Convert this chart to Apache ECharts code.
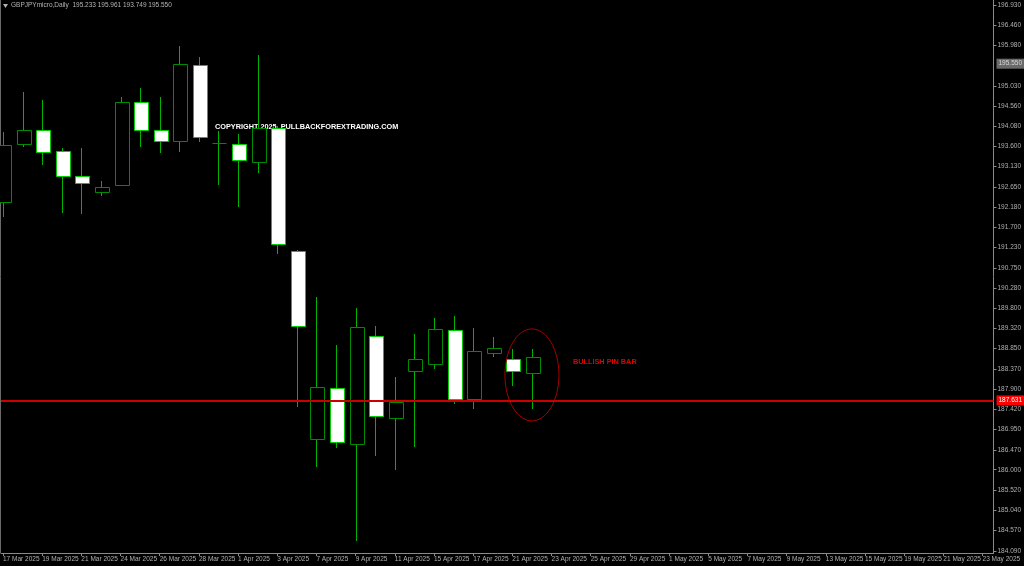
<!DOCTYPE html>
<html>
<head>
<meta charset="utf-8">
<script src="https://cdn.jsdelivr.net/npm/echarts@6/dist/echarts.min.js"></script>
<style>
html,body{margin:0;padding:0;background:#000;}
#chart{width:1024px;height:566px;}
</style>
</head>
<body>
<div id="chart"></div>
<script>
// ---- data ----
const barIndex = [0,1,2,3,4,5,6,7,8,9,10,11,12,13,14,15,16,17,18,19,20,21,22,23,24,25,26,27];
const opens  = [192.30,193.65,193.99,193.50,192.91,192.53,192.69,194.66,193.99,193.73,195.51,193.68,193.65,193.23,194.03,191.14,186.72,187.93,186.60,189.15,187.21,188.32,188.48,189.29,187.66,188.75,188.60,188.27];
const highs  = [193.95,194.89,194.69,193.56,193.57,192.79,194.76,194.98,194.77,195.97,195.70,193.97,193.90,195.75,194.08,191.17,190.06,188.93,189.80,189.39,188.17,189.19,189.57,189.62,189.33,189.13,188.83,188.84];
const lows   = [191.95,193.60,193.17,192.03,192.01,192.45,192.68,193.60,193.44,193.47,193.72,192.70,192.19,192.97,191.07,187.48,186.06,186.52,184.33,186.33,185.99,186.54,188.37,187.54,187.44,188.64,187.97,187.43];
const closes = [193.64,193.99,193.48,192.91,192.75,192.64,194.65,193.99,193.73,195.54,193.83,193.68,193.29,194.03,191.31,189.39,187.94,186.66,189.36,187.26,187.59,188.60,189.30,187.67,188.80,188.87,188.32,188.65];

const dateLabelBars = [0,2,4,6,8,10,12,14,16,18,20,22,24,26,28,30,32,34,36,38,40,42,44,46,48,50];
const dateLabels = ['17 Mar 2025','19 Mar 2025','21 Mar 2025','24 Mar 2025','26 Mar 2025','28 Mar 2025','1 Apr 2025','3 Apr 2025','7 Apr 2025','9 Apr 2025','11 Apr 2025','15 Apr 2025','17 Apr 2025','21 Apr 2025','23 Apr 2025','25 Apr 2025','29 Apr 2025','1 May 2025','5 May 2025','7 May 2025','9 May 2025','13 May 2025','15 May 2025','19 May 2025','21 May 2025','23 May 2025'];

const priceTicks = [196.930,196.460,195.980,195.030,194.560,194.080,193.600,193.130,192.650,192.180,191.700,191.230,190.750,190.280,189.800,189.320,188.850,188.370,187.900,187.420,186.950,186.470,186.000,185.520,185.040,184.570,184.090];

const priceLine = 187.631;      // red horizontal line
const highlightPrice = 195.550; // grey price marker
const pinBar = [27, 188.23];    // ellipse centre (bar, price)
const headerText = 'GBPJPYmicro,Daily  195.233 195.961 193.749 195.550';
const copyrightText = 'COPYRIGHT 2025. PULLBACKFOREXTRADING.COM';
const pinBarText = 'BULLISH PIN BAR';

// ---- build ----
const candleData = barIndex.map((b, i) => [b, opens[i], closes[i], lows[i], highs[i]]);

const FONT = 'Liberation Sans';
const LABEL_COLOR = '#b0b0b0';
const WICK = '#00b400';
const UP_BORDER = '#008c00';
const DOWN_BORDER = '#00d000';

function renderCandle(params, api) {
  const x = api.value(0), o = api.value(1), c = api.value(2), l = api.value(3), h = api.value(4);
  const pO = api.coord([x, o]), pC = api.coord([x, c]), pL = api.coord([x, l]), pH = api.coord([x, h]);
  const w = Math.round(api.size([1, 0])[0] * 0.74);
  const cx = Math.round(pO[0]) + 0.5;
  const up = c >= o;
  const top = Math.round(Math.min(pO[1], pC[1])) + 0.5;
  const bot = Math.round(Math.max(pO[1], pC[1])) + 0.5;
  const left = Math.round(cx - w / 2) + 0.5;
  const children = [{
    type: 'line',
    shape: { x1: cx, y1: Math.round(pH[1]), x2: cx, y2: Math.round(pL[1]) },
    style: { stroke: WICK, lineWidth: 1 }
  }];
  if (bot - top < 1) {
    children.push({
      type: 'line',
      shape: { x1: left, y1: top, x2: left + w, y2: top },
      style: { stroke: UP_BORDER, lineWidth: 1 }
    });
  } else {
    children.push({
      type: 'rect',
      shape: { x: left, y: top, width: w, height: bot - top },
      style: { fill: up ? '#000000' : '#ffffff', stroke: up ? UP_BORDER : DOWN_BORDER, lineWidth: 1 }
    });
  }
  return { type: 'group', children: children };
}

function renderEllipse(params, api) {
  const p = api.coord([api.value(0), api.value(1)]);
  return {
    type: 'ellipse',
    shape: { cx: p[0], cy: p[1], rx: 27, ry: 46 },
    style: { fill: null, stroke: '#a80000', lineWidth: 1 }
  };
}

const chart = echarts.init(document.getElementById('chart'), null, { renderer: 'canvas' });

const option = {
  backgroundColor: '#000000',
  animation: false,
  grid: { left: 0, right: 28, top: 0, bottom: 13, containLabel: false },
  xAxis: {
    type: 'value',
    min: -0.102,
    max: 50.56,
    splitLine: { show: false },
    axisLine: { show: true, onZero: false, lineStyle: { color: '#8a8a8a', width: 1 } },
    axisTick: { show: true, length: 3, customValues: dateLabelBars, lineStyle: { color: '#8a8a8a' } },
    axisLabel: {
      show: true,
      customValues: dateLabelBars,
      color: LABEL_COLOR,
      fontFamily: FONT,
      fontSize: 6.5,
      align: 'left',
      margin: 3,
      formatter: function (v) {
        const k = dateLabelBars.indexOf(Math.round(v));
        return k >= 0 ? dateLabels[k] : '';
      }
    }
  },
  yAxis: {
    type: 'value',
    position: 'right',
    min: 184.042,
    max: 197.048,
    splitLine: { show: false },
    axisLine: { show: true, onZero: false, lineStyle: { color: '#8a8a8a', width: 1 } },
    axisTick: { show: true, inside: false, length: 3, customValues: priceTicks, lineStyle: { color: '#8a8a8a' } },
    axisLabel: {
      show: true,
      customValues: priceTicks,
      color: LABEL_COLOR,
      fontFamily: FONT,
      fontSize: 6.5,
      margin: 4,
      formatter: function (v) { return v.toFixed(3); }
    }
  },
  series: [
    {
      type: 'custom',
      name: 'candles',
      renderItem: renderCandle,
      data: candleData,
      encode: { x: 0, y: [1, 2, 3, 4] },
      clip: true,
      silent: true,
      markLine: {
        silent: true,
        symbol: 'none',
        animation: false,
        data: [
          {
            yAxis: priceLine,
            lineStyle: { color: '#cc0000', width: 2, type: 'solid' },
            label: {
              show: true, position: 'end', distance: 3,
              formatter: priceLine.toFixed(3),
              color: '#ffffff', backgroundColor: '#ff0000',
              fontFamily: FONT, fontSize: 6.5, padding: [2, 2, 1, 2]
            }
          },
          {
            yAxis: highlightPrice,
            lineStyle: { color: 'rgba(0,0,0,0)', width: 1, type: 'solid' },
            label: {
              show: true, position: 'end', distance: 3,
              formatter: highlightPrice.toFixed(3),
              color: '#d8d8d8', backgroundColor: '#6a6a6a',
              fontFamily: FONT, fontSize: 6.5, padding: [2, 2, 1, 2]
            }
          }
        ]
      }
    },
    {
      type: 'custom',
      name: 'pinbar-ellipse',
      renderItem: renderEllipse,
      data: [pinBar],
      encode: { x: 0, y: 1 },
      silent: true,
      z: 3
    }
  ],
  graphic: [
    { type: 'line', shape: { x1: 0.5, y1: 0, x2: 0.5, y2: 553 }, style: { stroke: '#6a6a6a', lineWidth: 1 } },
    { type: 'polygon', shape: { points: [[3, 4], [8, 4], [5.5, 8]] }, style: { fill: '#b0b0b0' } },
    { type: 'text', left: 11, top: 2, style: { text: headerText, fill: '#b4b4b4', font: '6.5px "Liberation Sans"' } },
    { type: 'text', left: 215, top: 123, style: { text: copyrightText, fill: '#ffffff', font: 'bold 7.3px "Liberation Sans"' } },
    { type: 'text', left: 573, top: 358, style: { text: pinBarText, fill: '#e00000', font: 'bold 7.3px "Liberation Sans"' } }
  ]
};

chart.setOption(option);
</script>
</body>
</html>
